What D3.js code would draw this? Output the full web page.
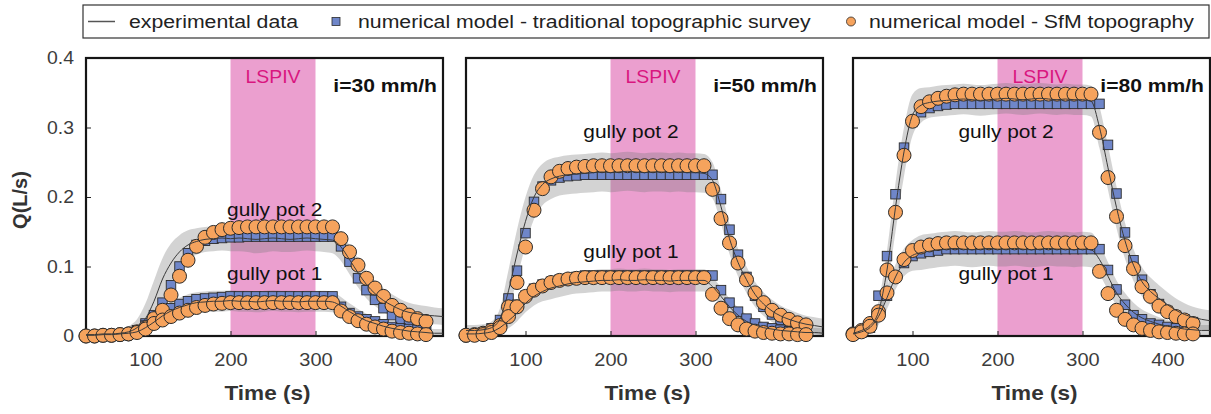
<!DOCTYPE html>
<html>
<head>
<meta charset="utf-8">
<script src="https://cdn.jsdelivr.net/npm/d3@7"></script>
<style>
  body { margin: 0; background: #fff; }
  svg text { font-family: "Liberation Sans", Arial, Helvetica, sans-serif; }
</style>
</head>
<body>
<svg id="chart" width="1211" height="414"></svg>
<script>
// ---- time grids (s) ----
const markerTimes = [30,40,50,60,70,80,90,100,110,120,130,140,150,160,170,180,190,200,210,220,230,240,250,260,270,280,290,300,310,320,330,340,350,360,370,380,390,400,410,420,430];
const expTimes = [30,40,50,60,70,80,90,100,110,120,130,140,150,160,170,180,190,200,210,220,230,240,250,260,270,280,290,300,310,320,330,340,350,360,370,380,390,400,410,420,430,440,450];

const xTicks = [100, 200, 300, 400];
const yTicks = [0, 0.1, 0.2, 0.3, 0.4];
const lspivWindow = [200, 300];
const intensities = ["i=30 mm/h", "i=50 mm/h", "i=80 mm/h"];

// ---- i = 30 mm/h ----
const i30_exp_pot2 = [.002,.002,.003,.003,.004,.006,.012,.025,.050,.082,.105,.121,.131,.136,.139,.140,.141,.140,.141,.140,.139,.140,.141,.140,.139,.140,.141,.140,.139,.138,.128,.110,.091,.074,.061,.051,.044,.038,.034,.032,.030,.029,.028];
const i30_spread_pot2 = [.005,.005,.005,.005,.006,.008,.012,.022,.030,.030,.028,.024,.021,.019,.018,.018,.018,.018,.019,.019,.020,.020,.019,.019,.018,.018,.018,.018,.018,.019,.020,.021,.021,.020,.018,.017,.016,.015,.014,.013,.013,.012,.012];
const i30_exp_pot1 = [.001,.001,.002,.002,.003,.004,.006,.012,.020,.029,.036,.041,.045,.048,.049,.050,.050,.051,.050,.050,.049,.050,.051,.050,.050,.049,.050,.050,.050,.049,.043,.035,.028,.022,.018,.014,.011,.009,.007,.006,.005,.004,.004];
const i30_spread_pot1 = [.004,.004,.004,.004,.004,.005,.006,.009,.012,.013,.014,.014,.015,.015,.015,.015,.015,.015,.015,.015,.015,.015,.015,.015,.015,.015,.015,.015,.015,.015,.013,.012,.011,.010,.009,.008,.008,.007,.007,.006,.006,.006,.006];
const i30_trad_pot2 = [.000,.000,.001,.001,.002,.004,.008,.018,.030,.048,.073,.100,.119,.131,.137,.140,.141,.142,.142,.143,.143,.143,.143,.143,.143,.143,.143,.143,.143,.143,.129,.107,.083,.066,.052,.040,.030,.023,.017,.013,.011];
const i30_trad_pot1 = [.000,.000,.001,.001,.002,.004,.008,.015,.023,.033,.040,.046,.050,.053,.054,.055,.056,.057,.057,.057,.057,.057,.057,.057,.057,.057,.057,.057,.057,.057,.042,.033,.028,.024,.021,.017,.013,.011,.010,.009,.008];
const i30_sfm_pot2 = [.000,.000,.001,.001,.002,.003,.006,.012,.025,.037,.059,.086,.109,.129,.142,.149,.153,.155,.156,.157,.157,.157,.157,.157,.157,.157,.157,.157,.157,.157,.140,.121,.102,.083,.069,.057,.044,.037,.030,.025,.021];
const i30_sfm_pot1 = [.000,.000,.001,.001,.002,.003,.005,.010,.018,.023,.028,.033,.037,.041,.044,.046,.047,.048,.048,.048,.048,.048,.048,.048,.048,.048,.048,.048,.048,.048,.036,.028,.022,.017,.013,.010,.007,.005,.004,.003,.002];

// ---- i = 50 mm/h ----
const i50_exp_pot2 = [.008,.008,.009,.012,.025,.065,.118,.165,.200,.218,.226,.230,.232,.233,.234,.235,.236,.235,.236,.237,.236,.235,.236,.236,.235,.236,.235,.235,.234,.224,.186,.140,.106,.081,.060,.046,.036,.029,.024,.020,.017,.015,.013];
const i50_spread_pot2 = [.008,.008,.008,.009,.015,.030,.035,.035,.032,.030,.029,.028,.028,.028,.028,.028,.028,.028,.028,.028,.028,.028,.028,.028,.028,.028,.028,.028,.028,.026,.024,.022,.020,.019,.018,.017,.016,.015,.014,.013,.012,.012,.012];
const i50_exp_pot1 = [.003,.003,.004,.006,.012,.022,.033,.047,.057,.064,.069,.072,.075,.077,.078,.079,.080,.080,.081,.080,.080,.081,.080,.080,.079,.080,.080,.080,.080,.071,.057,.042,.030,.021,.016,.012,.010,.008,.007,.006,.005,.005,.004];
const i50_spread_pot1 = [.005,.005,.005,.006,.008,.011,.012,.013,.013,.014,.016,.016,.016,.016,.016,.016,.016,.016,.016,.016,.016,.016,.016,.016,.016,.016,.016,.016,.016,.014,.013,.012,.011,.010,.009,.008,.008,.008,.007,.007,.007,.007,.007];
const i50_trad_pot2 = [.001,.002,.005,.011,.023,.054,.094,.148,.193,.215,.224,.228,.230,.231,.232,.232,.232,.232,.232,.232,.232,.232,.232,.232,.232,.232,.232,.232,.232,.232,.197,.153,.117,.085,.058,.042,.031,.023,.017,.013,.010];
const i50_trad_pot1 = [.001,.001,.003,.007,.015,.030,.045,.058,.068,.074,.078,.081,.083,.085,.087,.087,.087,.087,.087,.087,.087,.087,.087,.087,.087,.087,.087,.087,.087,.087,.066,.048,.035,.025,.018,.013,.011,.009,.007,.006,.005];
const i50_sfm_pot2 = [.001,.002,.004,.008,.015,.042,.077,.128,.181,.212,.229,.237,.241,.243,.244,.245,.245,.245,.245,.245,.245,.245,.245,.245,.245,.245,.245,.245,.245,.211,.169,.134,.105,.081,.062,.048,.037,.030,.024,.019,.016];
const i50_sfm_pot1 = [.001,.001,.002,.005,.012,.028,.042,.057,.066,.072,.077,.080,.082,.083,.084,.084,.084,.084,.084,.084,.084,.084,.084,.084,.084,.084,.084,.084,.084,.060,.040,.025,.016,.010,.007,.005,.004,.003,.003,.002,.002];

// ---- i = 80 mm/h ----
const i80_exp_pot2 = [.004,.008,.015,.035,.095,.185,.265,.318,.332,.336,.338,.339,.340,.341,.340,.339,.340,.341,.342,.341,.340,.341,.342,.341,.340,.341,.340,.340,.338,.300,.242,.185,.137,.102,.078,.064,.054,.045,.037,.031,.027,.024,.022];
const i80_spread_pot2 = [.006,.006,.008,.015,.028,.035,.035,.030,.025,.022,.022,.022,.022,.022,.022,.022,.022,.022,.022,.022,.022,.022,.022,.022,.022,.022,.022,.022,.022,.030,.032,.030,.026,.023,.021,.020,.019,.018,.017,.016,.015,.015,.015];
const i80_exp_pot1 = [.003,.006,.012,.028,.055,.085,.106,.116,.120,.122,.124,.125,.126,.125,.124,.125,.126,.125,.125,.126,.125,.124,.125,.126,.125,.125,.124,.125,.124,.110,.086,.062,.046,.034,.026,.021,.017,.014,.012,.010,.009,.008,.008];
const i80_spread_pot1 = [.005,.006,.008,.012,.016,.018,.020,.022,.025,.025,.025,.025,.025,.025,.025,.025,.025,.025,.025,.025,.025,.025,.025,.025,.025,.025,.025,.025,.025,.022,.020,.018,.016,.014,.012,.011,.010,.009,.008,.008,.008,.008,.008];
const i80_trad_pot2 = [.002,.006,.015,.058,.115,.204,.271,.308,.322,.328,.331,.333,.334,.334,.334,.334,.334,.334,.334,.334,.334,.334,.334,.334,.334,.334,.334,.334,.334,.334,.275,.205,.149,.109,.081,.060,.046,.036,.029,.024,.020];
const i80_trad_pot1 = [.002,.005,.012,.030,.058,.085,.105,.115,.119,.121,.123,.125,.125,.125,.125,.125,.125,.125,.125,.125,.125,.125,.125,.125,.125,.125,.125,.125,.125,.125,.095,.067,.045,.030,.024,.018,.016,.013,.011,.009,.008];
const i80_sfm_pot2 = [.003,.008,.018,.035,.095,.178,.260,.309,.330,.337,.342,.345,.347,.348,.348,.348,.348,.348,.348,.348,.348,.348,.348,.348,.348,.348,.348,.348,.348,.293,.228,.172,.130,.097,.071,.057,.043,.035,.028,.023,.018];
const i80_sfm_pot1 = [.002,.006,.014,.030,.062,.085,.110,.123,.128,.131,.133,.134,.134,.134,.134,.134,.134,.134,.134,.134,.134,.134,.134,.134,.134,.134,.134,.134,.134,.093,.061,.037,.024,.016,.011,.008,.006,.005,.004,.003,.003];

// ---- layout ----
const W = 1211, H = 414;
const panelLefts = [86, 466, 853];
const panelWidth = 357;
const plotTop = 58, plotBottom = 336;
const TXT = 1.13;            // horizontal text stretch
const colors = {
  pink: "#eb9fcf", lspiv: "#d9167f", band: "#7a7a7a",
  line: "#3a3a3a", square: "#6f86c9", circle: "#f6a35d",
  stroke: "#2b2b2b", axisText: "#3c3c3c"
};

const panels = [
  { exp: [i30_exp_pot2, i30_exp_pot1], spread: [i30_spread_pot2, i30_spread_pot1],
    trad: [i30_trad_pot2, i30_trad_pot1], sfm: [i30_sfm_pot2, i30_sfm_pot1],
    potLabels: [{ t: 252, q: 0.173, text: "gully pot 2" }, { t: 252, q: 0.081, text: "gully pot 1" }] },
  { exp: [i50_exp_pot2, i50_exp_pot1], spread: [i50_spread_pot2, i50_spread_pot1],
    trad: [i50_trad_pot2, i50_trad_pot1], sfm: [i50_sfm_pot2, i50_sfm_pot1],
    potLabels: [{ t: 224, q: 0.285, text: "gully pot 2" }, { t: 224, q: 0.112, text: "gully pot 1" }] },
  { exp: [i80_exp_pot2, i80_exp_pot1], spread: [i80_spread_pot2, i80_spread_pot1],
    trad: [i80_trad_pot2, i80_trad_pot1], sfm: [i80_sfm_pot2, i80_sfm_pot1],
    potLabels: [{ t: 210, q: 0.285, text: "gully pot 2" }, { t: 210, q: 0.081, text: "gully pot 1" }] }
];

const svg = d3.select("#chart");
svg.append("rect").attr("width", W).attr("height", H).attr("fill", "#fff");

// text helper: places text at (x, y) with a horizontal stretch
function addText(g, x, y, str, o = {}) {
  return g.append("text")
    .attr("transform", `translate(${x},${y}) scale(${o.sx ?? TXT},1)`)
    .attr("text-anchor", o.anchor || "start")
    .attr("font-size", o.size || 18.5)
    .attr("font-weight", o.weight || "normal")
    .attr("fill", o.fill || "#111")
    .text(str);
}
function stretchAxisText(sel, sx) {
  sel.selectAll("text").each(function () {
    const t = d3.select(this);
    const x = +t.attr("x") || 0, y = +t.attr("y") || 0;
    t.attr("x", null).attr("y", null)
     .attr("transform", `translate(${x},${y}) scale(${sx},1)`);
  });
}

const y = d3.scaleLinear().domain([0, 0.4]).range([plotBottom, plotTop]);

panels.forEach((p, pi) => {
  const left = panelLefts[pi];
  const x = d3.scaleLinear().domain([30, 450]).range([left, left + panelWidth]);
  const g = svg.append("g");

  // LSPIV window
  g.append("rect")
    .attr("x", x(lspivWindow[0])).attr("y", plotTop)
    .attr("width", x(lspivWindow[1]) - x(lspivWindow[0]))
    .attr("height", plotBottom - plotTop)
    .attr("fill", colors.pink);

  // experimental envelopes
  p.exp.forEach((ser, si) => {
    const rows = expTimes.map((t, i) => ({ t, v: ser[i], s: p.spread[si][i] }));
    const area = d3.area().curve(d3.curveMonotoneX)
      .x(d => x(d.t)).y0(d => y(Math.max(0, d.v - d.s))).y1(d => y(d.v + d.s));
    g.append("path").datum(rows).attr("d", area)
      .attr("fill", colors.band).attr("fill-opacity", 0.33);
  });

  // axes (inward ticks)
  const xAxis = d3.axisBottom(x).tickValues(xTicks).tickSizeInner(-5).tickSizeOuter(0).tickPadding(17);
  const gx = g.append("g").attr("transform", `translate(0,${plotBottom})`).call(xAxis);
  gx.select(".domain").remove();
  gx.selectAll("line").attr("stroke", "#222");
  gx.selectAll("text").attr("font-size", 18.5).attr("fill", colors.axisText)
    .attr("font-family", '"Liberation Sans", Arial, sans-serif');
  stretchAxisText(gx, 1.08);

  const yAxis = d3.axisLeft(y).tickValues(yTicks).tickSizeInner(-5).tickSizeOuter(0).tickPadding(12)
    .tickFormat(pi === 0 ? (d => d === 0 ? "0" : d3.format(".1f")(d)) : () => "");
  const gy = g.append("g").attr("transform", `translate(${left},0)`).call(yAxis);
  gy.select(".domain").remove();
  gy.selectAll("line").attr("stroke", "#222");
  gy.selectAll("text").attr("font-size", 18.5).attr("fill", colors.axisText)
    .attr("font-family", '"Liberation Sans", Arial, sans-serif');
  stretchAxisText(gy, 1.05);

  // frame
  g.append("rect").attr("x", left).attr("y", plotTop)
    .attr("width", panelWidth).attr("height", plotBottom - plotTop)
    .attr("fill", "none").attr("stroke", "#151515").attr("stroke-width", 2.2);

  // numerical model - traditional survey (squares)
  const sq = 9.5;
  p.trad.forEach(ser => {
    g.append("g").selectAll("rect")
      .data(markerTimes.map((t, i) => ({ t, v: ser[i] })))
      .join("rect")
      .attr("x", d => x(d.t) - sq / 2).attr("y", d => y(d.v) - sq / 2)
      .attr("width", sq).attr("height", sq)
      .attr("fill", colors.square).attr("stroke", colors.stroke).attr("stroke-width", 0.9);
  });

  // numerical model - SfM (circles)
  p.sfm.forEach(ser => {
    g.append("g").selectAll("circle")
      .data(markerTimes.map((t, i) => ({ t, v: ser[i] })))
      .join("circle")
      .attr("cx", d => x(d.t)).attr("cy", d => y(d.v)).attr("r", 7)
      .attr("fill", colors.circle).attr("stroke", colors.stroke).attr("stroke-width", 1);
  });

  // experimental mean
  p.exp.forEach(ser => {
    const line = d3.line().curve(d3.curveMonotoneX).x((d, i) => x(expTimes[i])).y(d => y(d));
    g.append("path").datum(ser).attr("d", line)
      .attr("fill", "none").attr("stroke", colors.line).attr("stroke-width", 1);
  });

  // annotations
  addText(g, x(250), y(0.364), "LSPIV", { anchor: "middle", fill: colors.lspiv, sx: 1.05 });
  addText(g, left + panelWidth - 6, y(0.351), intensities[pi], { anchor: "end", weight: "bold", size: 18.5, sx: 1.14 });
  p.potLabels.forEach(l => addText(g, x(l.t), y(l.q), l.text, { anchor: "middle" }));

  // x title
  addText(g, left + panelWidth / 2 + 3, 400, "Time (s)", { anchor: "middle", weight: "bold", size: 20, fill: "#333" });
});

// y title
svg.append("text")
  .attr("transform", `translate(27,${(plotTop + plotBottom) / 2 + 3}) rotate(-90)`)
  .attr("text-anchor", "middle").attr("font-size", 20).attr("font-weight", "bold").attr("fill", "#333")
  .text("Q(L/s)");

// legend
const lg = svg.append("g");
const LEG = 1.15;
lg.append("rect").attr("x", 83).attr("y", 5).attr("width", 1126).attr("height", 33)
  .attr("fill", "#fff").attr("stroke", "#333").attr("stroke-width", 1.2);
lg.append("line").attr("x1", 88).attr("x2", 115).attr("y1", 21.5).attr("y2", 21.5)
  .attr("stroke", "#555").attr("stroke-width", 1.5);
addText(lg, 129, 28, "experimental data", { fill: "#222", sx: LEG });
lg.append("rect").attr("x", 332).attr("y", 17.5).attr("width", 8).attr("height", 8)
  .attr("fill", colors.square).attr("stroke", colors.stroke).attr("stroke-width", 0.8);
addText(lg, 358, 28, "numerical model - traditional topographic survey", { fill: "#222", sx: LEG });
lg.append("circle").attr("cx", 851).attr("cy", 21.5).attr("r", 4.5)
  .attr("fill", colors.circle).attr("stroke", colors.stroke).attr("stroke-width", 0.8);
addText(lg, 869, 28, "numerical model - SfM topography", { fill: "#222", sx: LEG });
</script>
</body>
</html>
